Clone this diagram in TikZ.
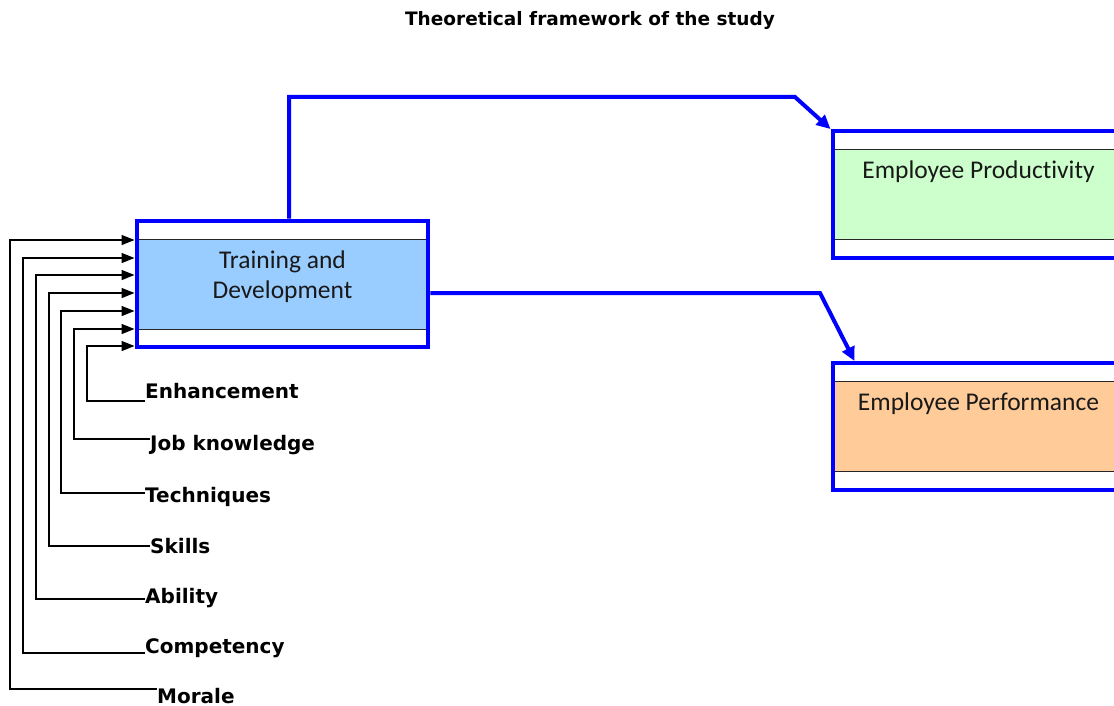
\documentclass[tikz,border=0pt]{standalone}
\usepackage{fontspec}
\setmainfont{Carlito}[Ligatures=NoCommon]
\newfontfamily\lblfont{DejaVu Sans}
\usetikzlibrary{calc, positioning, fit, arrows.meta}
\definecolor{skyfill}{HTML}{99CCFF}
\definecolor{mintfill}{HTML}{CCFFCC}
\definecolor{peachfill}{HTML}{FFCC99}

\begin{document}
\begin{tikzpicture}
  [x=1pt, y=-1pt,
   inbox/.style={rectangle, draw=black!85, line width=0.9pt, minimum width=291pt, minimum height=90pt, inner sep=0pt},
   frame/.style={rectangle, draw=blue, line width=4pt, inner xsep=0pt, inner ysep=18pt},
   boxtext/.style={font=\fontsize{25.5}{30}\selectfont, align=center, text=black!90},
   factor/.style={font=\lblfont\bfseries\fontsize{20}{22}\selectfont, anchor=base west, inner sep=0pt},
   feed/.style={-{Triangle[length=13pt,width=10pt]}, line width=1.3pt},
   link/.style={-{Triangle[length=14pt,width=13pt]}, blue, line width=4pt}]

  \useasboundingbox (0,0) rectangle (1114,706);
  \clip (0,0) rectangle (1114,706);

  % title %
  \node[font=\lblfont\bfseries\fontsize{18.5}{20}\selectfont] (title) at (590,20) {Theoretical framework of the study};

  % boxes %
  \node[inbox, fill=skyfill] (td) at (282.5,284) {};
  \node[frame, fit=(td)] (tdframe) {};
  \node[boxtext] (tdtext) at ($(td.north)+(0,38)$) {Training and\\Development};

  \node[inbox, fill=mintfill] (pd) at (978.5,194.5) {};
  \node[frame, fit=(pd)] (pdframe) {};
  \node[boxtext] (pdtext) at ($(pd.north)+(0,23)$) {Employee Productivity};

  \node[inbox, fill=peachfill] (pf) at (978.5,426.5) {};
  \node[frame, fit=(pf)] (pfframe) {};
  \node[boxtext] (pftext) at ($(pf.north)+(0,23)$) {Employee Performance};

  % factors %
  \foreach \nm/\txt/\lx/\ly/\cx/\ay/\hy in {
      enh/Enhancement/145/398/87/346/401,
      job/Job knowledge/150/450/74/329/439,
      tec/Techniques/145/502/61/311/493,
      ski/Skills/150/553/49/293/546,
      abi/Ability/145/603/36/275/599,
      com/Competency/145/653/23/258/653,
      mor/Morale/157/703/10/240/689}{
    \node[factor] (\nm) at (\lx,\ly) {\txt};
    \draw[feed] (\nm.west |- 0,\hy) -| (\cx,\ay) -- (tdframe.west |- 0,\ay);
  }

  % edges %
  \draw[link] ($(tdframe.north)+(6.5,0)$) |- (795,97) -- (pdframe.north west);
  \draw[link] ($(tdframe.east)+(0,9)$) -- (820,293) -- ($(pfframe.north west)+(24,0)$);
\end{tikzpicture}
\end{document}
